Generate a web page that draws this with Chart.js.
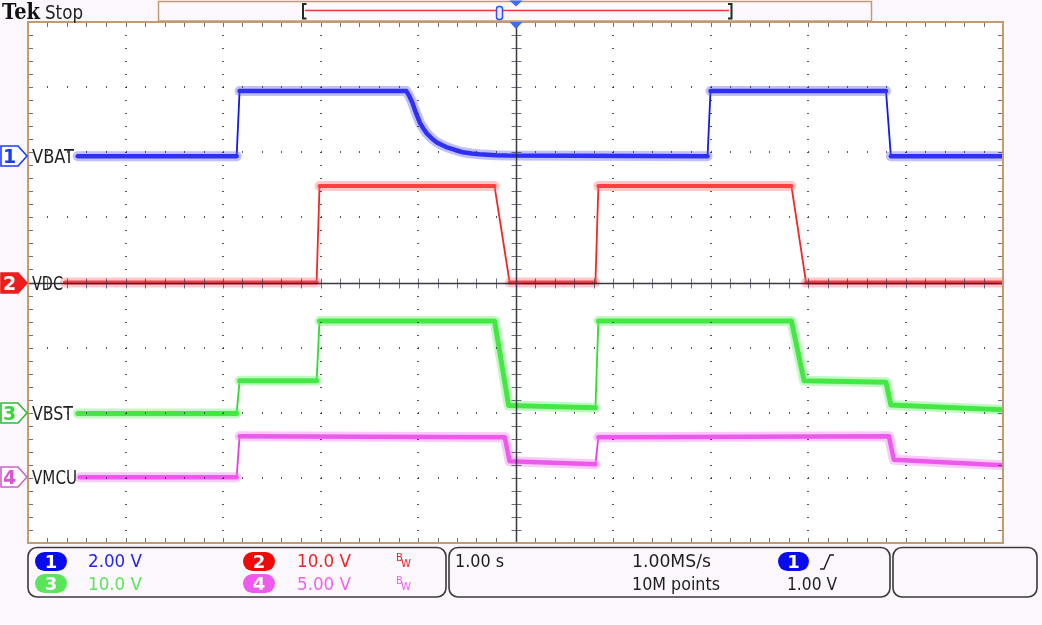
<!DOCTYPE html>
<html><head><meta charset="utf-8">
<script src="https://cdn.jsdelivr.net/npm/chart.js@4.4.1/dist/chart.umd.min.js"></script>
<style>
html,body{margin:0;padding:0;background:#fcf7fc;}
#wrap{position:relative;width:1042px;height:625px;overflow:hidden;}
canvas{display:block;position:absolute;left:0;top:0;}
svg{position:absolute;left:0;top:0;pointer-events:none;}
</style></head><body>
<div id="wrap"><canvas id="c" width="1042" height="625"></canvas>
<svg id="ov" width="1042" height="625" xmlns="http://www.w3.org/2000/svg"></svg></div>
<script>
// ---- channel setup ----
const channelNames = ['VBAT', 'VDC', 'VBST', 'VMCU'];
const channelVoltsPerDiv = [2.0, 10.0, 10.0, 5.0];
const channelOffsetDiv = [1.94, 0.0, -2.0, -2.99];
const channelScaleLabels = ['2.00 V', '10.0 V', '10.0 V', '5.00 V'];

// ---- waveform samples (time in s, 1 s/div, trigger at 0) ----
const vbatTime  = [-4.49, -2.86, -2.83, -1.12, -1.09, -1.055, -1.02, -0.98, -0.945, -0.91, -0.86, -0.81, -0.76, -0.71, -0.62, -0.54, -0.45, -0.37, -0.20, -0.09, 1.97, 2.00, 3.80, 3.85, 4.99];
const vbatVolts = [0.0, 0.0, 2.0, 2.0, 1.85, 1.62, 1.32, 1.02, 0.85, 0.70, 0.55, 0.43, 0.35, 0.28, 0.19, 0.12, 0.08, 0.06, 0.03, 0.02, 0.0, 2.0, 2.0, 0.0, 0.0];

const vdcTime  = [-4.62, -2.04, -2.01, -0.215, -0.06, 0.82, 0.85, 2.83, 2.98, 4.99];
const vdcVolts = [0.0, 0.0, 14.8, 14.8, 0.0, 0.0, 14.8, 14.8, 0.0, 0.0];

const vbstTime  = [-4.49, -2.86, -2.83, -2.04, -2.01, -0.215, -0.07, 0.82, 0.85, 2.83, 2.96, 3.80, 3.85, 4.99];
const vbstVolts = [-0.1, -0.1, 4.9, 4.9, 14.1, 14.1, 1.1, 0.75, 14.1, 14.1, 4.9, 4.7, 1.2, 0.45];

const vmcuTime  = [-4.47, -2.86, -2.83, -0.11, -0.06, 0.82, 0.85, 3.83, 3.88, 4.99];
const vmcuVolts = [0.0, 0.0, 3.15, 3.07, 1.23, 1.0, 3.07, 3.15, 1.35, 0.92];

// ---- readout texts ----
const timebaseLabel = '1.00 s';
const sampleRateLabel = '1.00MS/s';
const recordLengthLabel = '10M points';
const triggerLevelLabel = '1.00 V';

const coreColors = ['rgb(22,22,240)', 'rgb(245,38,38)', 'rgb(40,225,40)', 'rgb(232,60,232)'];
const hazeColors = ['rgba(90,90,255,0.38)', 'rgba(255,110,110,0.38)', 'rgba(110,240,110,0.42)', 'rgba(240,130,240,0.42)'];
const coreWidths = [4.5, 4, 5, 4.5];
const steepRatio = [5, 5, 8, 8];

const traces = [[vbatTime, vbatVolts], [vdcTime, vdcVolts], [vbstTime, vbstVolts], [vmcuTime, vmcuVolts]];

function toDiv(ch) {
  const [t, v] = traces[ch];
  return t.map((tt, i) => ({x: tt, y: v[i] / channelVoltsPerDiv[ch] + channelOffsetDiv[ch]}));
}
function steep(c, r) {
  const dx = Math.abs(c.p1.x - c.p0.x), dy = Math.abs(c.p1.y - c.p0.y);
  return dy > r * dx;
}

const datasets = [];
for (let ch = 0; ch < 4; ch++) {
  const pts = toDiv(ch);
  const r = steepRatio[ch];
  datasets.push({
    data: pts, borderColor: hazeColors[ch], borderWidth: 10, pointRadius: 0, tension: 0,
    borderCapStyle: 'round', borderJoinStyle: 'round',
    segment: {borderColor: c => steep(c, r) ? 'rgba(0,0,0,0)' : hazeColors[ch], borderWidth: c => steep(c, r) ? 0 : 10}
  });
  datasets.push({
    data: pts, borderColor: coreColors[ch], borderWidth: coreWidths[ch], pointRadius: 0, tension: 0,
    borderCapStyle: 'round', borderJoinStyle: 'round',
    segment: {borderWidth: c => steep(c, r) ? 1.8 : coreWidths[ch]}
  });
}

const graticule = {
  id: 'graticule',
  beforeDatasetsDraw(chart) {
    const {ctx, chartArea: a} = chart;
    ctx.save(); ctx.fillStyle = '#ffffff';
    ctx.fillRect(a.left, a.top, a.right - a.left, a.bottom - a.top); ctx.restore();
  },
  afterDatasetsDraw(chart) {
    const {ctx, chartArea: a, scales: {x, y}} = chart;
    ctx.save();
    ctx.fillStyle = 'rgba(55,55,75,0.85)';
    for (let i = -4; i <= 4; i++) {
      if (i === 0) continue;
      const px = Math.round(x.getPixelForValue(i));
      for (let j = -19; j <= 19; j++) {
        const py = Math.round(y.getPixelForValue(j * 0.2));
        ctx.fillRect(px - 1, py, 2, 1);
      }
    }
    for (let j = -3; j <= 3; j++) {
      if (j === 0) continue;
      const py = Math.round(y.getPixelForValue(j));
      for (let i = -24; i <= 24; i++) {
        const px = Math.round(x.getPixelForValue(i * 0.2));
        ctx.fillRect(px, py - 1, 1, 2);
      }
    }
    const cx = Math.round(x.getPixelForValue(0)) + 0.5, cy = Math.round(y.getPixelForValue(0)) + 0.5;
    const ln = (x1, y1, x2, y2) => { ctx.beginPath(); ctx.moveTo(x1, y1); ctx.lineTo(x2, y2); ctx.stroke(); };
    ctx.strokeStyle = 'rgba(35,35,50,0.9)'; ctx.lineWidth = 1.5;
    ln(cx, a.top, cx, a.bottom); ln(a.left, cy, a.right, cy);
    ctx.strokeStyle = 'rgba(60,60,80,0.75)'; ctx.lineWidth = 1;
    for (let i = -24; i <= 24; i++) {
      const px = Math.round(x.getPixelForValue(i * 0.2)) + 0.5;
      ln(px, cy - 5, px, cy + 5);
      ln(px, a.top, px, a.top + 5);
      ln(px, a.bottom - 5, px, a.bottom);
    }
    for (let j = -19; j <= 19; j++) {
      const py = Math.round(y.getPixelForValue(j * 0.2)) + 0.5;
      ln(cx - 5, py, cx + 5, py);
      ln(a.left, py, a.left + 5, py);
      ln(a.right - 5, py, a.right, py);
    }
    ctx.strokeStyle = '#c39b73'; ctx.lineWidth = 2;
    ctx.strokeRect(a.left, a.top, a.right - a.left, a.bottom - a.top);
    ctx.restore();
  }
};

const chart = new Chart(document.getElementById('c'), {
  type: 'line',
  data: {datasets},
  options: {
    responsive: false, animation: false, devicePixelRatio: 1,
    layout: {padding: {left: 28, top: 22, right: 39, bottom: 82}},
    plugins: {legend: {display: false}, tooltip: {enabled: false}},
    scales: {
      x: {type: 'linear', min: -5, max: 5, display: false},
      y: {type: 'linear', min: -4, max: 4, display: false}
    }
  },
  plugins: [graticule]
});

// ---- overlay (decorations & readouts) ----
const FONT = "'DejaVu Sans Condensed','DejaVu Sans',sans-serif";
function t(x, y, s, opt = {}) {
  const a = Object.assign({fill: '#1e1e1e', size: 18, family: FONT, weight: 'normal', anchor: 'start'}, opt);
  let len = a.len ? ` textLength="${a.len}" lengthAdjust="spacingAndGlyphs"` : '';
  return `<text x="${x}" y="${y}" fill="${a.fill}" font-size="${a.size}" font-family="${a.family}" font-weight="${a.weight}" text-anchor="${a.anchor}"${len}>${s}</text>`;
}
const ys = chart.scales.y;
let svg = '';
// top bar
svg += t(2, 19, 'Tek', {family: "'DejaVu Serif',serif", weight: 'bold', size: 22, len: 38, fill: '#111'});
svg += t(45, 19, 'Stop', {size: 19, len: 38, fill: '#222'});
svg += `<rect x="158.5" y="1.5" width="713" height="19.5" fill="#fdf8fd" stroke="#c39b73" stroke-width="1.5"/>`;
svg += `<line x1="305" y1="10.5" x2="729" y2="10.5" stroke="#f03535" stroke-width="1.6"/>`;
svg += `<path d="M306.5,4 H303 V18.5 H306.5" stroke="#1f2f1f" stroke-width="2" fill="none"/>`;
svg += `<path d="M728,4 H731.5 V18.5 H728" stroke="#1f2f1f" stroke-width="2" fill="none"/>`;
svg += `<rect x="496.5" y="6.5" width="6" height="13" rx="2.5" fill="#e6ecff" stroke="#2a55ff" stroke-width="1.5"/>`;
svg += `<path d="M509.5,0.5 H522.5 L516,6.5 Z" fill="#3a6cf2"/>`;
svg += `<path d="M509.5,22 H522.5 L516,29 Z" fill="#3a6cf2"/>`;

// channel markers
const mk = [
  {stroke: '#1a3cff', fill: '#ffffff', txt: '#1a3cff'},
  {stroke: '#ee1c1c', fill: '#ee1c1c', txt: '#ffffff'},
  {stroke: '#33b833', fill: '#ffffff', txt: '#3ad53a'},
  {stroke: '#c964c9', fill: '#ffffff', txt: '#d855d8'}
];
const labelLens = [42, 31, 41, 45];
for (let ch = 0; ch < 4; ch++) {
  const py = Math.round(ys.getPixelForValue(channelOffsetDiv[ch]));
  const m = mk[ch];
  svg += `<path d="M1,${py - 10} H18 L27,${py} L18,${py + 10} H1 Z" fill="${m.fill}" stroke="${m.stroke}" stroke-width="1.6"/>`;
  svg += t(9.5, py + 7, String(ch + 1), {size: 19, anchor: 'middle', fill: m.txt, family: "'DejaVu Sans',sans-serif", weight: 'bold'});
  svg += t(32, py + 7, channelNames[ch], {size: 20, len: labelLens[ch], fill: '#1e1e1e'});
}

// bottom readout boxes
svg += `<rect x="28" y="547.5" width="418" height="49.5" rx="9" fill="none" stroke="#3a3a3a" stroke-width="1.6"/>`;
svg += `<rect x="449" y="547.5" width="441" height="49.5" rx="9" fill="none" stroke="#3a3a3a" stroke-width="1.6"/>`;
svg += `<rect x="893" y="547.5" width="144" height="49.5" rx="9" fill="none" stroke="#3a3a3a" stroke-width="1.6"/>`;
const badgeFill = ['#0a0aee', '#ee0a0a', '#5ae65a', '#ee5aee'];
const textFill = ['#2424ee', '#ee2424', '#5ae65a', '#ee62ee'];
const badgePos = [[35, 552], [243, 552], [35, 574], [243, 574]];
const txtPos = [[88, 567], [297, 567], [88, 590], [297, 590]];
for (let ch = 0; ch < 4; ch++) {
  const [bx, by] = badgePos[ch];
  svg += `<rect x="${bx}" y="${by}" width="32" height="19" rx="9.5" fill="${badgeFill[ch]}"/>`;
  svg += t(bx + 16, by + 16, String(ch + 1), {size: 18, anchor: 'middle', fill: '#ffffff', family: "'DejaVu Sans',sans-serif", weight: 'bold'});
  svg += t(txtPos[ch][0], txtPos[ch][1], channelScaleLabels[ch], {size: 18, len: 54, fill: textFill[ch]});
}
svg += t(396, 561, 'B', {size: 10, fill: '#ee2424', family: "'DejaVu Sans',sans-serif"});
svg += t(401, 567, 'W', {size: 10, fill: '#ee2424', family: "'DejaVu Sans',sans-serif"});
svg += t(396, 584, 'B', {size: 10, fill: '#ee62ee', family: "'DejaVu Sans',sans-serif"});
svg += t(401, 590, 'W', {size: 10, fill: '#ee62ee', family: "'DejaVu Sans',sans-serif"});

svg += t(455, 567, timebaseLabel, {size: 18, len: 49});
svg += t(632, 567, sampleRateLabel, {size: 18, len: 79});
svg += t(632, 590, recordLengthLabel, {size: 18, len: 88});
svg += `<rect x="778" y="552" width="31" height="19" rx="9.5" fill="#0a0aee"/>`;
svg += t(793.5, 568, '1', {size: 18, anchor: 'middle', fill: '#ffffff', family: "'DejaVu Sans',sans-serif", weight: 'bold'});
svg += `<path d="M820,569 H824 L830,555 H834" stroke="#1e1e1e" stroke-width="1.4" fill="none"/>`;
svg += t(787, 590, triggerLevelLabel, {size: 18, len: 50});

document.getElementById('ov').innerHTML = svg;
</script>
</body></html>
